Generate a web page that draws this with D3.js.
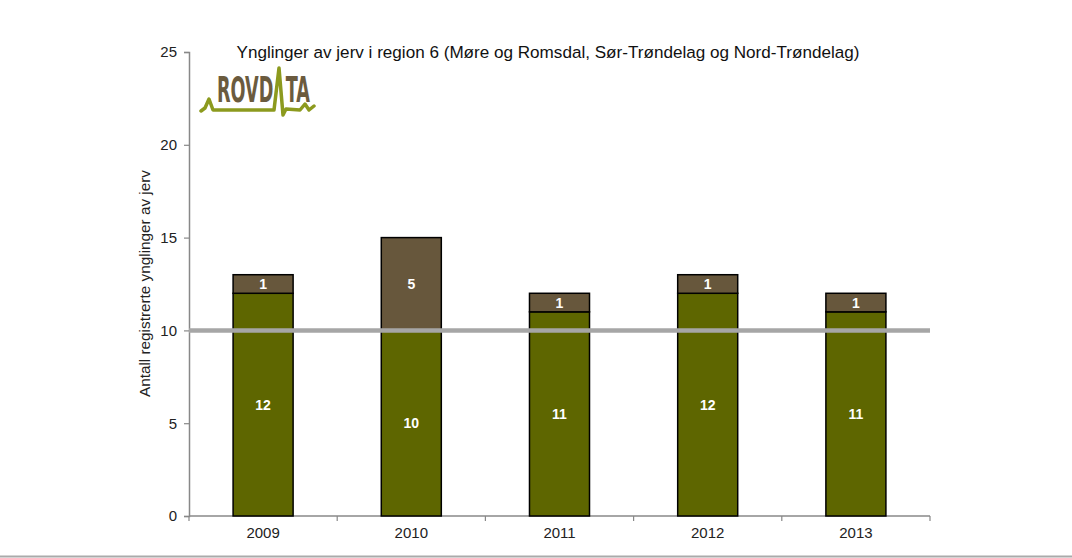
<!DOCTYPE html>
<html><head><meta charset="utf-8">
<script src="https://cdn.jsdelivr.net/npm/d3@7"></script>
<style>body{margin:0;background:#fff;}svg{display:block;font-family:"Liberation Sans",Arial,sans-serif;}</style>
</head><body>
<svg id="c" width="1072" height="558"></svg>
<script>
const years = ["2009","2010","2011","2012","2013"];
const seriesA = [12,10,11,12,11];   // lower (green)
const seriesB = [1,5,1,1,1];        // upper (brown)
const yTicks = [0,5,10,15,20,25];
const refValue = 10;
const title = "Ynglinger av jerv i region 6 (Møre og Romsdal, Sør-Trøndelag og Nord-Trøndelag)";
const yLabel = "Antall registrerte ynglinger av jerv";

(function(){
const svg = d3.select("#c");
const pl = 189, pr = 930, pt = 52, pb = 516;
const x = d3.scaleBand().domain(years).range([pl, pr]).paddingInner(0.595).paddingOuter(0.2975);
const y = d3.scaleLinear().domain([0,25]).range([pb, pt]);
const colA = "#5e6600", colB = "#67573c";

// bottom page line
svg.append("line").attr("x1",0).attr("x2",1072).attr("y1",556.5).attr("y2",556.5).attr("stroke","#aaaaaa").attr("stroke-width",2);

// title
svg.append("text").attr("x",548).attr("y",58).attr("text-anchor","middle").attr("font-size",17.1).attr("fill","#111").text(title);

// y axis
const yAxis = svg.append("g").attr("transform",`translate(${pl},0)`)
  .call(d3.axisLeft(y).tickValues(yTicks).tickSize(5).tickPadding(7));
yAxis.select(".domain").attr("stroke","#888").attr("stroke-width",1.5);
yAxis.selectAll(".tick line").attr("stroke","#888").attr("stroke-width",1.2);
yAxis.selectAll("text").attr("font-size",15).attr("fill","#222").attr("font-family","Liberation Sans, Arial");

// x axis
const xb = d3.scaleLinear().domain([0,5]).range([pl,pr]);
const xAxis = svg.append("g").attr("transform",`translate(0,${pb})`)
  .call(d3.axisBottom(x).tickSize(0).tickPadding(11));
xAxis.select(".domain").remove();
xAxis.selectAll("text").attr("font-size",15).attr("fill","#222").attr("font-family","Liberation Sans, Arial");
const xg = svg.append("g");
xg.append("line").attr("x1",pl).attr("x2",pr).attr("y1",pb).attr("y2",pb).attr("stroke","#888").attr("stroke-width",1.5);
xg.selectAll("line.t").data(d3.range(6)).join("line").attr("class","t")
  .attr("x1",d=>xb(d)).attr("x2",d=>xb(d)).attr("y1",pb).attr("y2",pb+5).attr("stroke","#888").attr("stroke-width",1.2);

// y label
svg.append("text").attr("transform",`translate(150,283.5) rotate(-90)`).attr("text-anchor","middle")
  .attr("font-size",15.3).attr("fill","#222").text(yLabel);

// bars
const data = years.map((yr,i)=>({yr,a:seriesA[i],b:seriesB[i]}));
const g = svg.append("g");
data.forEach(d=>{
  g.append("rect").attr("x",x(d.yr)).attr("width",x.bandwidth()).attr("y",y(d.a)).attr("height",y(0)-y(d.a))
    .attr("fill",colA).attr("stroke","#000").attr("stroke-width",1.5);
  g.append("rect").attr("x",x(d.yr)).attr("width",x.bandwidth()).attr("y",y(d.a+d.b)).attr("height",y(d.a)-y(d.a+d.b))
    .attr("fill",colB).attr("stroke","#000").attr("stroke-width",1.5);
  g.append("text").attr("x",x(d.yr)+x.bandwidth()/2).attr("y",y(d.a/2)+5).attr("text-anchor","middle")
    .attr("font-size",14).attr("font-weight","bold").attr("fill","#fff").text(d.a);
  g.append("text").attr("x",x(d.yr)+x.bandwidth()/2).attr("y",y(d.a+d.b/2)+5).attr("text-anchor","middle")
    .attr("font-size",14).attr("font-weight","bold").attr("fill","#fff").text(d.b);
});

// reference line
svg.append("line").attr("x1",pl).attr("x2",pr).attr("y1",y(refValue)).attr("y2",y(refValue))
  .attr("stroke","#a6a6a6").attr("stroke-width",4.5);

// logo
const logo = svg.append("g");
const lf = "DejaVu Sans Condensed, DejaVu Sans";
logo.append("text").attr("x",217).attr("y",102).attr("font-family",lf).attr("font-weight","bold")
  .attr("font-size",35).attr("fill","#6b5b3e").attr("textLength",93).attr("lengthAdjust","spacingAndGlyphs").text("ROVD\u2002\u2009TA");
logo.append("path").attr("d","M201,111 L205,108 L209,99 L213,110 L274,110 L279,68 L283,115 L286,109 L300,110 L305,104 L309,110 L314,106")
  .attr("fill","none").attr("stroke","#8c9a1e").attr("stroke-width",3.5).attr("stroke-linejoin","round").attr("stroke-linecap","round");
})();
</script>
</body></html>
